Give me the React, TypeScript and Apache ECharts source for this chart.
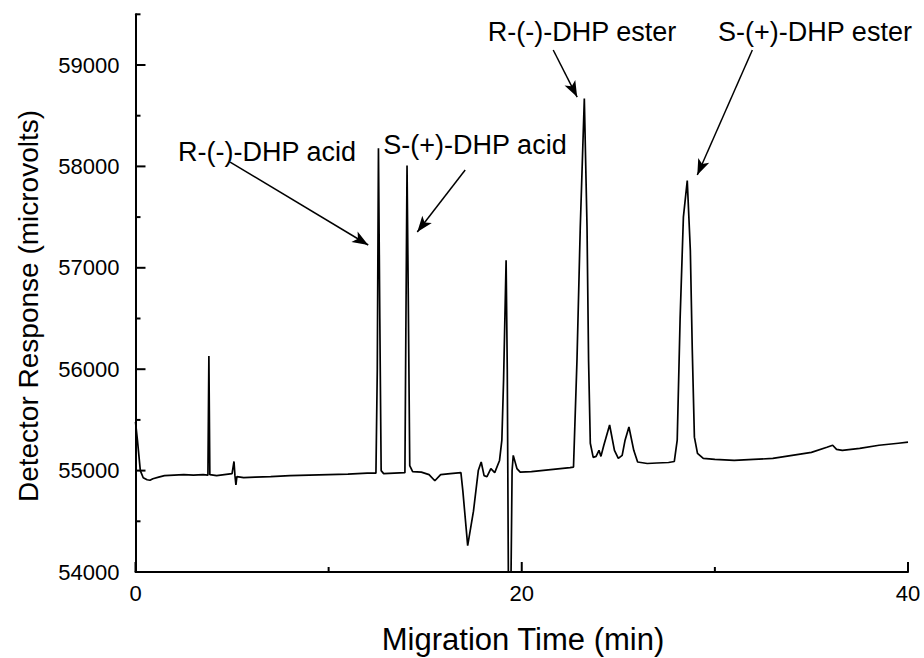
import React, { useEffect, useRef } from "react";
import * as echarts from "echarts";

const time = [
  0.0, 0.1, 0.25, 0.4, 0.6, 0.75, 0.9, 1.2, 1.5, 2.0, 2.5, 3.0, 3.5, 3.75, 3.8, 3.85, 4.2, 4.6, 5.0, 5.1, 5.15, 5.2, 5.25,
  5.6, 6.2, 7.0, 8.0, 9.0, 10.0, 11.0, 12.0, 12.45, 12.52, 12.58, 12.65, 12.72, 12.85, 13.4, 13.95, 14.0, 14.06, 14.12,
  14.2, 14.35, 14.8, 15.2, 15.5, 15.8, 16.3, 16.85, 16.95, 17.2, 17.5, 17.75, 17.9, 18.05, 18.2, 18.4, 18.6, 18.85,
  18.97, 19.06, 19.19, 19.25, 19.32, 19.42, 19.5, 19.56, 19.75, 19.92, 20.5, 21.0, 21.5, 22.0, 22.5, 22.68, 22.86,
  23.03, 23.24, 23.38, 23.46, 23.55, 23.7, 23.85, 24.0, 24.1, 24.25, 24.55, 24.8, 25.0, 25.2, 25.35, 25.55, 25.8, 26.0,
  26.5, 27.0, 27.6, 27.9, 28.05, 28.2, 28.37, 28.57, 28.73, 28.83, 28.94, 29.1, 29.4, 30.0, 31.0, 32.0, 33.0, 34.0,
  35.0, 35.8, 36.1, 36.3, 36.6, 37.5, 38.5, 39.5, 40.0,
];

const response = [
  55480, 55300, 55000, 54930, 54910, 54905, 54920, 54935, 54950, 54955, 54960, 54955, 54960, 54955, 56130, 54960, 54950,
  54960, 54970, 55090, 54950, 54860, 54940, 54930, 54935, 54940, 54950, 54955, 54960, 54965, 54975, 54975, 56000, 58180,
  56500, 55000, 54970, 54975, 54980, 56400, 58010, 56800, 55050, 54990, 54985, 54960, 54900, 54960, 54970, 54980, 54800,
  54260, 54600, 55000, 55085, 54950, 54940, 55020, 54980, 55100, 55300, 55900, 57075, 56000, 53500, 53500, 55000, 55150,
  55020, 54985, 54990, 55000, 55010, 55020, 55030, 55035, 56090, 57400, 58670, 57400, 56090, 55270, 55130, 55140, 55200,
  55140, 55250, 55450, 55200, 55120, 55150, 55300, 55430, 55200, 55085, 55070, 55075, 55080, 55090, 55300, 56500, 57500,
  57860, 57170, 56190, 55330, 55170, 55120, 55110, 55100, 55110, 55120, 55150, 55180, 55230, 55250, 55210, 55200, 55220,
  55250, 55270, 55280,
];

const yRange = [54000, 59500];
const xRange = [0, 40];
const xMajorTicks = [0, 20, 40];
const xMinorTicks = [10, 30];
const yMajorTicks = [54000, 55000, 56000, 57000, 58000, 59000];
const yMinorTicks = [54500, 55500, 56500, 57500, 58500, 59500];

const annotationLabels = ["R-(-)-DHP acid", "S-(+)-DHP acid", "R-(-)-DHP ester", "S-(+)-DHP ester"];
const arrowStart = [
  [4.9, 58043],
  [17.07, 57964],
  [21.63, 59148],
  [31.94, 59148],
];
const arrowEnd = [
  [12.05, 57225],
  [14.59, 57353],
  [22.87, 58684],
  [29.09, 57915],
];

const FONT = "'Liberation Sans', Arial, sans-serif";

export default function App() {
  const ref = useRef<HTMLDivElement>(null);

  useEffect(() => {
    if (!ref.current) return;
    const chart = echarts.init(ref.current, undefined, { renderer: "svg" });
    const data = time.map((t, i) => [t, response[i]]);
    // tick items: [value, axis (0 = x, 1 = y), major (1) / minor (0)]
    const tickData = [
      ...xMajorTicks.map((v) => [v, 0, 1]),
      ...xMinorTicks.map((v) => [v, 0, 0]),
      ...yMajorTicks.map((v) => [v, 1, 1]),
      ...yMinorTicks.map((v) => [v, 1, 0]),
    ];
    const labelPos = [
      [267, 152],
      [475, 145],
      [582, 32],
      [815, 32],
    ];

    chart.setOption({
      animation: false,
      backgroundColor: "#fff",
      grid: { left: 135.5, right: 16, top: 14.3, bottom: 86, outerBoundsMode: "none", containLabel: false },
      xAxis: {
        type: "value",
        min: xRange[0],
        max: xRange[1],
        interval: 20,
        axisLine: { show: true, onZero: false, lineStyle: { color: "#000", width: 2 } },
        axisTick: { show: false },
        minorTick: { show: false },
        axisLabel: { fontSize: 22, color: "#000", fontFamily: FONT, margin: 10 },
        splitLine: { show: false },
      },
      yAxis: {
        type: "value",
        min: yRange[0],
        max: yRange[1],
        interval: 1000,
        axisLine: { show: true, onZero: false, lineStyle: { color: "#000", width: 2 } },
        axisTick: { show: false },
        axisLabel: {
          fontSize: 22,
          color: "#000",
          fontFamily: FONT,
          margin: 16,
          formatter: (v: number) => (v % 1000 === 0 ? String(v) : ""),
        },
        splitLine: { show: false },
      },
      series: [
        {
          type: "line",
          data,
          showSymbol: false,
          symbol: "none",
          clip: true,
          lineStyle: { color: "#000", width: 1.7 },
          markLine: {
            silent: true,
            symbol: ["none", "arrow"],
            symbolSize: [9, 16],
            label: { show: false },
            lineStyle: { color: "#000", width: 1.5, type: "solid" },
            data: arrowStart.map((s, i) => [{ coord: s }, { coord: arrowEnd[i] }]),
          },
        },
        {
          type: "custom",
          silent: true,
          clip: false,
          data: tickData,
          encode: { x: 0 },
          renderItem: (_params: any, api: any) => {
            const v = api.value(0);
            const onY = api.value(1) === 1;
            const len = api.value(2) === 1 ? 10 : 5;
            if (!onY) {
              const p = api.coord([v, yRange[0]]);
              return {
                type: "line",
                shape: { x1: p[0], y1: p[1], x2: p[0], y2: p[1] - len },
                style: { stroke: "#000", lineWidth: 2 },
              };
            }
            const p = api.coord([xRange[0], v]);
            return {
              type: "line",
              shape: { x1: p[0], y1: p[1], x2: p[0] + len, y2: p[1] },
              style: { stroke: "#000", lineWidth: 2 },
            };
          },
        },
      ],
      graphic: [
        ...annotationLabels.map((txt, i) => ({
          type: "text",
          x: labelPos[i][0],
          y: labelPos[i][1],
          style: {
            text: txt,
            fontSize: 27,
            fontFamily: FONT,
            fill: "#000",
            align: "center",
            verticalAlign: "middle",
          },
        })),
        {
          type: "text",
          x: 523,
          y: 639,
          style: {
            text: "Migration Time (min)",
            fontSize: 31,
            fontFamily: FONT,
            fill: "#000",
            align: "center",
            verticalAlign: "middle",
          },
        },
        {
          type: "text",
          x: 28,
          y: 306,
          rotation: Math.PI / 2,
          style: {
            text: "Detector Response (microvolts)",
            fontSize: 28,
            fontFamily: FONT,
            fill: "#000",
            align: "center",
            verticalAlign: "middle",
          },
        },
      ],
    });

    return () => chart.dispose();
  }, []);

  return (
    <div
      ref={ref}
      style={{ position: "fixed", left: 0, top: 0, width: 924, height: 658, background: "#fff" }}
    />
  );
}
